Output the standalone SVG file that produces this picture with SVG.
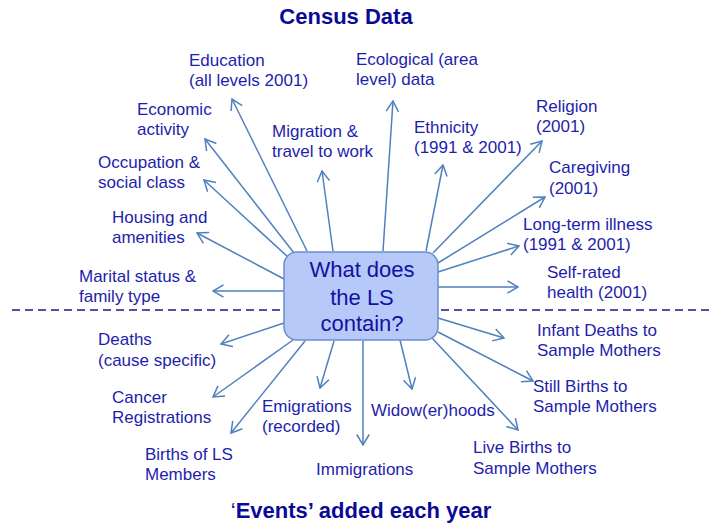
<svg xmlns="http://www.w3.org/2000/svg" width="715" height="525" viewBox="0 0 715 525">
<style>
.lbl{font-family:"Liberation Sans",Arial,sans-serif;font-size:17px;fill:#1e1eac}
.ttl{font-family:"Liberation Sans",Arial,sans-serif;font-size:22px;font-weight:bold;fill:#0a0a96;text-anchor:middle}
.ctr{font-family:"Liberation Sans",Arial,sans-serif;font-size:22px;fill:#1212a0;text-anchor:middle}
.arr{stroke:#4f81bd;stroke-width:1.5;fill:none;marker-end:url(#ah)}
</style>
<defs>
<marker id="ah" markerUnits="userSpaceOnUse" viewBox="0 0 12 14" refX="11" refY="7" markerWidth="12" markerHeight="14" orient="auto">
<path d="M0.5,0.8 L11,7 L0.5,13.2" fill="none" stroke="#4f81bd" stroke-width="1.5"/>
</marker>
</defs>
<rect width="715" height="525" fill="#ffffff"/>
<text class="ttl" x="346" y="24">Census Data</text>
<text class="ttl" x="361" y="518"><tspan font-weight="normal">‘</tspan>Events’ added each year</text>
<g id="divider"><line x1="12" y1="310" x2="712" y2="310" stroke="#1a1a80" stroke-width="1.5" stroke-dasharray="8,5"/></g>
<g id="connectors">
<line class="arr" x1="307" y1="251" x2="232" y2="99"/>
<line class="arr" x1="294" y1="253" x2="205" y2="139"/>
<line class="arr" x1="289" y1="258" x2="204" y2="180"/>
<line class="arr" x1="284" y1="279" x2="197" y2="233"/>
<line class="arr" x1="284" y1="291" x2="213" y2="291"/>
<line class="arr" x1="333" y1="251" x2="322" y2="171"/>
<line class="arr" x1="383" y1="251" x2="393" y2="101"/>
<line class="arr" x1="426" y1="251" x2="443" y2="165"/>
<line class="arr" x1="433" y1="253" x2="542" y2="141"/>
<line class="arr" x1="438" y1="263" x2="545" y2="197"/>
<line class="arr" x1="438" y1="272" x2="519" y2="246"/>
<line class="arr" x1="438" y1="287" x2="518" y2="287"/>
<line class="arr" x1="284" y1="323" x2="221" y2="344"/>
<line class="arr" x1="293" y1="340" x2="213" y2="397"/>
<line class="arr" x1="305" y1="341" x2="231" y2="433"/>
<line class="arr" x1="334" y1="341" x2="320" y2="388"/>
<line class="arr" x1="363" y1="341" x2="363" y2="445"/>
<line class="arr" x1="400" y1="340" x2="412" y2="389"/>
<line class="arr" x1="438" y1="318" x2="504" y2="338"/>
<line class="arr" x1="438" y1="332" x2="533" y2="381"/>
<line class="arr" x1="432" y1="338" x2="518" y2="430"/>
</g>
<g id="center">
<rect x="284" y="252" width="154" height="88" rx="13" ry="13" fill="#b7c9f9" stroke="#6b8fcc" stroke-width="1.5"/>
<text class="ctr" x="362" y="277">What does</text>
<text class="ctr" x="362" y="305">the LS</text>
<text class="ctr" x="362" y="331">contain?</text>
</g>
<g id="education"><text class="lbl" x="189" y="66">Education</text><text class="lbl" x="189" y="86">(all levels 2001)</text></g>
<g id="economic"><text class="lbl" x="137" y="115">Economic</text><text class="lbl" x="137" y="135">activity</text></g>
<g id="occupation"><text class="lbl" x="98" y="168">Occupation &amp;</text><text class="lbl" x="98" y="188">social class</text></g>
<g id="housing"><text class="lbl" x="112" y="223">Housing and</text><text class="lbl" x="112" y="243">amenities</text></g>
<g id="marital"><text class="lbl" x="79" y="282">Marital status &amp;</text><text class="lbl" x="79" y="302">family type</text></g>
<g id="migration"><text class="lbl" x="272" y="137">Migration &amp;</text><text class="lbl" x="272" y="157">travel to work</text></g>
<g id="ecological"><text class="lbl" x="356" y="65">Ecological (area</text><text class="lbl" x="356" y="85">level) data</text></g>
<g id="ethnicity"><text class="lbl" x="414" y="133">Ethnicity</text><text class="lbl" x="414" y="153">(1991 &amp; 2001)</text></g>
<g id="religion"><text class="lbl" x="536" y="112">Religion</text><text class="lbl" x="536" y="132">(2001)</text></g>
<g id="caregiving"><text class="lbl" x="549" y="173">Caregiving</text><text class="lbl" x="549" y="194">(2001)</text></g>
<g id="illness"><text class="lbl" x="523" y="230">Long-term illness</text><text class="lbl" x="523" y="250">(1991 &amp; 2001)</text></g>
<g id="selfrated"><text class="lbl" x="547" y="278">Self-rated</text><text class="lbl" x="547" y="298">health (2001)</text></g>
<g id="deaths"><text class="lbl" x="98" y="345">Deaths</text><text class="lbl" x="98" y="366">(cause specific)</text></g>
<g id="cancer"><text class="lbl" x="112" y="403">Cancer</text><text class="lbl" x="112" y="423">Registrations</text></g>
<g id="births"><text class="lbl" x="145" y="460">Births of LS</text><text class="lbl" x="145" y="480">Members</text></g>
<g id="emigrations"><text class="lbl" x="262" y="412">Emigrations</text><text class="lbl" x="262" y="432">(recorded)</text></g>
<g id="immigrations"><text class="lbl" x="316" y="475">Immigrations</text></g>
<g id="widowhoods"><text class="lbl" x="371" y="416">Widow(er)hoods</text></g>
<g id="infant"><text class="lbl" x="537" y="336">Infant Deaths to</text><text class="lbl" x="537" y="356">Sample Mothers</text></g>
<g id="stillbirths"><text class="lbl" x="533" y="392">Still Births to</text><text class="lbl" x="533" y="412">Sample Mothers</text></g>
<g id="livebirths"><text class="lbl" x="473" y="453">Live Births to</text><text class="lbl" x="473" y="474">Sample Mothers</text></g>
</svg>
